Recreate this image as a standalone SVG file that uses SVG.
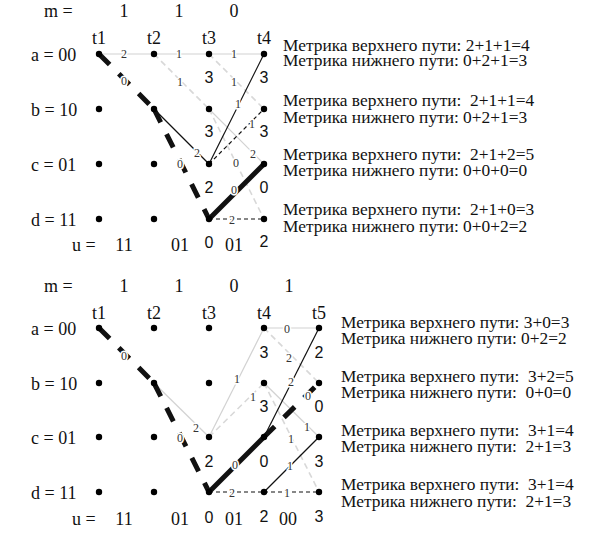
<svg xmlns="http://www.w3.org/2000/svg" width="605" height="539" viewBox="0 0 605 539">
<style>
.lbl{font-family:"Liberation Serif","Times New Roman",serif;font-size:18px;fill:#111}
.c{text-anchor:middle}
.met{font-family:"Liberation Serif","Times New Roman",serif;font-size:16px;fill:#111;white-space:pre}
.big{font-family:"Liberation Sans",Arial,sans-serif;font-size:16px;fill:#111;text-anchor:middle}
.el{font-family:"Liberation Serif","Times New Roman",serif;font-size:12px;fill:#333;text-anchor:middle;stroke:#fff;stroke-width:3px;paint-order:stroke;stroke-linejoin:round}
.g{stroke:#d2d2d2;stroke-width:1.2;fill:none}
.gd{stroke:#d8d8d8;stroke-width:1.6;stroke-dasharray:6,4;fill:none}
.k{stroke:#111;stroke-width:1.2;fill:none}
.kd{stroke:#111;stroke-width:1.2;stroke-dasharray:4,3;fill:none}
.T{stroke:#111;stroke-width:5;fill:none}
.Td{stroke:#111;stroke-width:5;stroke-dasharray:15,13;fill:none}
.n{fill:#000}
</style>

<!-- ===== TOP TRELLIS ===== -->
<g id="top-headers">
<text class="lbl" x="44" y="17">m =</text>
<text class="lbl c" x="124" y="17">1</text>
<text class="lbl c" x="179" y="17">1</text>
<text class="lbl c" x="234" y="17">0</text>
<text class="lbl c" x="99" y="44">t1</text>
<text class="lbl c" x="154" y="44">t2</text>
<text class="lbl c" x="209" y="44">t3</text>
<text class="lbl c" x="264" y="44">t4</text>
<text class="lbl" x="31" y="61">a = 00</text>
<text class="lbl" x="31" y="116">b = 10</text>
<text class="lbl" x="31" y="171">c = 01</text>
<text class="lbl" x="31" y="226">d = 11</text>
<text class="lbl" x="72" y="251">u =</text>
<text class="lbl c" x="124" y="251">11</text>
<text class="lbl c" x="180" y="251">01</text>
<text class="lbl c" x="234" y="251">01</text>
</g>

<g id="top-connectors">
<line class="g" x1="99" y1="54" x2="154" y2="54"/>
<line class="g" x1="154" y1="54" x2="209" y2="54"/>
<line class="g" x1="209" y1="54" x2="264" y2="54"/>
<line class="gd" x1="154" y1="54" x2="209" y2="109"/>
<line class="gd" x1="209" y1="54" x2="264" y2="109"/>
<line class="g" x1="209" y1="109" x2="264" y2="164"/>
<line class="gd" x1="209" y1="109" x2="264" y2="219"/>
<line class="k" x1="154" y1="109" x2="209" y2="164"/>
<line class="k" x1="209" y1="164" x2="264" y2="54"/>
<line class="kd" x1="209" y1="164" x2="264" y2="109"/>
<line class="kd" x1="209" y1="219" x2="264" y2="219"/>
<line class="Td" x1="99" y1="54" x2="154" y2="109"/>
<line class="Td" x1="154" y1="109" x2="209" y2="219"/>
<line class="T" x1="209" y1="219" x2="264" y2="164"/>
<text class="el" x="124" y="58">2</text>
<text class="el" x="124" y="85">0</text>
<text class="el" x="179" y="58">1</text>
<text class="el" x="180" y="86">1</text>
<text class="el" x="197" y="157">2</text>
<text class="el" x="180" y="168">0</text>
<text class="el" x="234" y="58">1</text>
<text class="el" x="234" y="86">1</text>
<text class="el" x="253" y="158">2</text>
<text class="el" x="236" y="167">0</text>
<text class="el" x="238" y="108">1</text>
<text class="el" x="252" y="128">1</text>
<text class="el" x="234" y="194">0</text>
<text class="el" x="232" y="224">2</text>
</g>

<g id="top-metrics">
<text class="big" x="209" y="83">3</text>
<text class="big" x="264" y="83">3</text>
<text class="big" x="209" y="137">3</text>
<text class="big" x="264" y="137">3</text>
<text class="big" x="209" y="193">2</text>
<text class="big" x="264" y="193">0</text>
<text class="big" x="209" y="248">0</text>
<text class="big" x="264" y="247">2</text>
</g>

<g id="top-a-t1"><circle class="n" cx="99" cy="54" r="3.2"/></g>
<g id="top-a-t2"><circle class="n" cx="154" cy="54" r="3.2"/></g>
<g id="top-a-t3"><circle class="n" cx="209" cy="54" r="3.2"/></g>
<g id="top-a-t4"><circle class="n" cx="264" cy="54" r="3.2"/></g>
<g id="top-b-t1"><circle class="n" cx="99" cy="109" r="3.2"/></g>
<g id="top-b-t2"><circle class="n" cx="154" cy="109" r="3.2"/></g>
<g id="top-b-t3"><circle class="n" cx="209" cy="109" r="3.2"/></g>
<g id="top-b-t4"><circle class="n" cx="264" cy="109" r="3.2"/></g>
<g id="top-c-t1"><circle class="n" cx="99" cy="164" r="3.2"/></g>
<g id="top-c-t2"><circle class="n" cx="154" cy="164" r="3.2"/></g>
<g id="top-c-t3"><circle class="n" cx="209" cy="164" r="3.2"/></g>
<g id="top-c-t4"><circle class="n" cx="264" cy="164" r="3.2"/></g>
<g id="top-d-t1"><circle class="n" cx="99" cy="219" r="3.2"/></g>
<g id="top-d-t2"><circle class="n" cx="154" cy="219" r="3.2"/></g>
<g id="top-d-t3"><circle class="n" cx="209" cy="219" r="3.2"/></g>
<g id="top-d-t4"><circle class="n" cx="264" cy="219" r="3.2"/></g>

<g id="top-notes" transform="translate(283,0) scale(1.085,1)">
<text class="met" x="0" y="51">Метрика верхнего пути: 2+1+1=4</text>
<text class="met" x="0" y="66">Метрика нижнего пути: 0+2+1=3</text>
<text class="met" x="0" y="106">Метрика верхнего пути:  2+1+1=4</text>
<text class="met" x="0" y="123">Метрика нижнего пути: 0+2+1=3</text>
<text class="met" x="0" y="160">Метрика верхнего пути:  2+1+2=5</text>
<text class="met" x="0" y="176">Метрика нижнего пути: 0+0+0=0</text>
<text class="met" x="0" y="215">Метрика верхнего пути:  2+1+0=3</text>
<text class="met" x="0" y="232">Метрика нижнего пути: 0+0+2=2</text>
</g>

<!-- ===== BOTTOM TRELLIS ===== -->
<g id="bottom-headers">
<text class="lbl" x="44" y="292">m =</text>
<text class="lbl c" x="124" y="292">1</text>
<text class="lbl c" x="179" y="292">1</text>
<text class="lbl c" x="234" y="292">0</text>
<text class="lbl c" x="289" y="292">1</text>
<text class="lbl c" x="99" y="319">t1</text>
<text class="lbl c" x="154" y="319">t2</text>
<text class="lbl c" x="209" y="319">t3</text>
<text class="lbl c" x="264" y="319">t4</text>
<text class="lbl c" x="319" y="319">t5</text>
<text class="lbl" x="31" y="335">a = 00</text>
<text class="lbl" x="31" y="390">b = 10</text>
<text class="lbl" x="31" y="444">c = 01</text>
<text class="lbl" x="31" y="499">d = 11</text>
<text class="lbl" x="72" y="525">u =</text>
<text class="lbl c" x="124" y="525">11</text>
<text class="lbl c" x="180" y="525">01</text>
<text class="lbl c" x="234" y="525">01</text>
<text class="lbl c" x="288" y="525">00</text>
</g>

<g id="bottom-connectors">
<line class="g" x1="154" y1="383" x2="209" y2="437"/>
<line class="g" x1="209" y1="437" x2="264" y2="328"/>
<line class="gd" x1="209" y1="437" x2="264" y2="383"/>
<line class="g" x1="264" y1="328" x2="319" y2="328"/>
<line class="gd" x1="264" y1="328" x2="319" y2="383"/>
<line class="g" x1="264" y1="383" x2="319" y2="437"/>
<line class="gd" x1="264" y1="383" x2="319" y2="492"/>
<line class="kd" x1="209" y1="492" x2="264" y2="492"/>
<line class="kd" x1="264" y1="492" x2="319" y2="492"/>
<line class="k" x1="264" y1="437" x2="319" y2="328"/>
<line class="k" x1="264" y1="492" x2="319" y2="437"/>
<line class="Td" x1="99" y1="328" x2="154" y2="383"/>
<line class="Td" x1="154" y1="383" x2="209" y2="492"/>
<line class="T" x1="209" y1="492" x2="264" y2="437"/>
<line class="Td" x1="264" y1="437" x2="319" y2="383"/>
<text class="el" x="124" y="360">0</text>
<text class="el" x="196" y="432">2</text>
<text class="el" x="180" y="442">0</text>
<text class="el" x="237" y="383">1</text>
<text class="el" x="253" y="401">1</text>
<text class="el" x="235" y="469">0</text>
<text class="el" x="232" y="497">2</text>
<text class="el" x="287" y="333">0</text>
<text class="el" x="289" y="362">2</text>
<text class="el" x="291" y="386">2</text>
<text class="el" x="308" y="400">0</text>
<text class="el" x="307" y="431">1</text>
<text class="el" x="291" y="443">1</text>
<text class="el" x="290" y="470">1</text>
<text class="el" x="287" y="497">1</text>
</g>

<g id="bottom-metrics">
<text class="big" x="264" y="358">3</text>
<text class="big" x="319" y="358">2</text>
<text class="big" x="264" y="412">3</text>
<text class="big" x="319" y="412">0</text>
<text class="big" x="209" y="467">2</text>
<text class="big" x="264" y="467">0</text>
<text class="big" x="319" y="467">3</text>
<text class="big" x="209" y="523">0</text>
<text class="big" x="264" y="522">2</text>
<text class="big" x="319" y="522">3</text>
</g>

<g id="bot-a-t1"><circle class="n" cx="99" cy="328" r="3.2"/></g>
<g id="bot-a-t2"><circle class="n" cx="154" cy="328" r="3.2"/></g>
<g id="bot-a-t3"><circle class="n" cx="209" cy="328" r="3.2"/></g>
<g id="bot-a-t4"><circle class="n" cx="264" cy="328" r="3.2"/></g>
<g id="bot-a-t5"><circle class="n" cx="319" cy="328" r="3.2"/></g>
<g id="bot-b-t1"><circle class="n" cx="99" cy="383" r="3.2"/></g>
<g id="bot-b-t2"><circle class="n" cx="154" cy="383" r="3.2"/></g>
<g id="bot-b-t3"><circle class="n" cx="209" cy="383" r="3.2"/></g>
<g id="bot-b-t4"><circle class="n" cx="264" cy="383" r="3.2"/></g>
<g id="bot-b-t5"><circle class="n" cx="319" cy="383" r="3.2"/></g>
<g id="bot-c-t1"><circle class="n" cx="99" cy="437" r="3.2"/></g>
<g id="bot-c-t2"><circle class="n" cx="154" cy="437" r="3.2"/></g>
<g id="bot-c-t3"><circle class="n" cx="209" cy="437" r="3.2"/></g>
<g id="bot-c-t4"><circle class="n" cx="264" cy="437" r="3.2"/></g>
<g id="bot-c-t5"><circle class="n" cx="319" cy="437" r="3.2"/></g>
<g id="bot-d-t1"><circle class="n" cx="99" cy="492" r="3.2"/></g>
<g id="bot-d-t2"><circle class="n" cx="154" cy="492" r="3.2"/></g>
<g id="bot-d-t3"><circle class="n" cx="209" cy="492" r="3.2"/></g>
<g id="bot-d-t4"><circle class="n" cx="264" cy="492" r="3.2"/></g>
<g id="bot-d-t5"><circle class="n" cx="319" cy="492" r="3.2"/></g>

<g id="bottom-notes" transform="translate(341,0) scale(1.085,1)">
<text class="met" x="0" y="328">Метрика верхнего пути: 3+0=3</text>
<text class="met" x="0" y="344">Метрика нижнего пути: 0+2=2</text>
<text class="met" x="0" y="382">Метрика верхнего пути:  3+2=5</text>
<text class="met" x="0" y="398">Метрика нижнего пути:  0+0=0</text>
<text class="met" x="0" y="436">Метрика верхнего пути:  3+1=4</text>
<text class="met" x="0" y="452">Метрика нижнего пути:  2+1=3</text>
<text class="met" x="0" y="490">Метрика верхнего пути:  3+1=4</text>
<text class="met" x="0" y="507">Метрика нижнего пути:  2+1=3</text>
</g>
</svg>
